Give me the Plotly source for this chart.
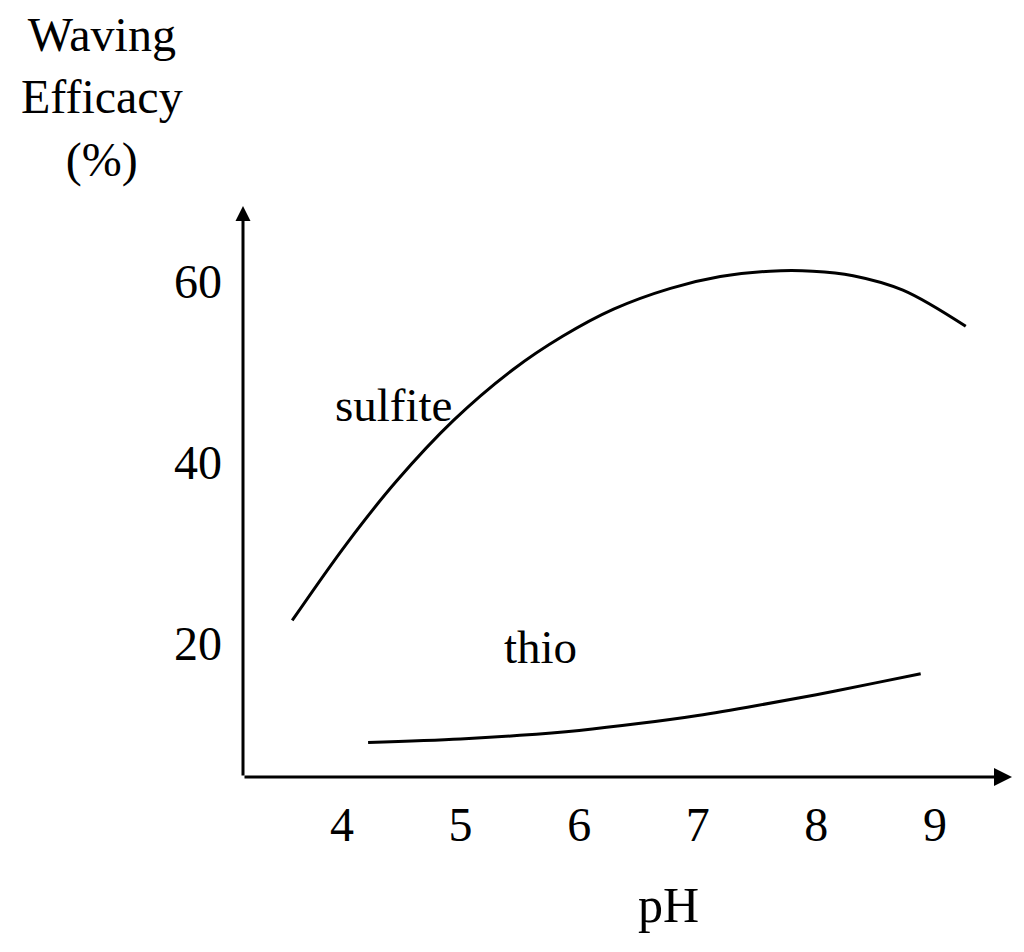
import plotly.graph_objects as go

# Data
sulfite_ph = [3.58, 4.04, 4.46, 4.94, 5.44, 5.86, 6.29, 6.77, 7.19, 7.61, 7.97, 8.31, 8.73, 9.26]
sulfite_eff = [22.5, 31.0, 37.9, 44.6, 50.2, 53.9, 56.9, 59.2, 60.5, 61.1, 61.1, 60.6, 59.0, 55.0]

thio_ph = [4.22, 5.0, 5.5, 6.0, 6.5, 7.0, 7.5, 8.0, 8.5, 8.88]
thio_eff = [9.0, 9.4, 9.8, 10.35, 11.1, 12.0, 13.1, 14.3, 15.6, 16.6]

x_ticks = [4, 5, 6, 7, 8, 9]
y_ticks = [20, 40, 60]

x_min, x_max = 3.165, 9.65
y_min, y_max = 5.2, 68.3

FONT = "Liberation Serif, Times New Roman, serif"

fig = go.Figure()
fig.add_trace(go.Scatter(x=sulfite_ph, y=sulfite_eff, mode="lines",
                         line=dict(color="black", width=3, shape="spline", smoothing=1.0),
                         name="sulfite", hoverinfo="skip"))
fig.add_trace(go.Scatter(x=thio_ph, y=thio_eff, mode="lines",
                         line=dict(color="black", width=3, shape="spline", smoothing=1.0),
                         name="thio", hoverinfo="skip"))

# axis arrows
fig.add_annotation(x=x_max, y=y_min, ax=x_min, ay=y_min, xref="x", yref="y",
                   axref="x", ayref="y", showarrow=True, arrowhead=2, arrowsize=1.2,
                   arrowwidth=3, arrowcolor="black", text="", standoff=0, startstandoff=0)
fig.add_annotation(x=x_min, y=y_max, ax=x_min, ay=y_min, xref="x", yref="y",
                   axref="x", ayref="y", showarrow=True, arrowhead=2, arrowsize=1.0,
                   arrowwidth=3, arrowcolor="black", text="", standoff=0, startstandoff=0)

# curve labels
fig.add_annotation(x=4.43, y=46.3, xref="x", yref="y", text="sulfite", showarrow=False,
                   font=dict(family=FONT, size=47, color="black"))
fig.add_annotation(x=5.67, y=19.6, xref="x", yref="y", text="thio", showarrow=False,
                   font=dict(family=FONT, size=47, color="black"))

# y title
fig.add_annotation(x=-0.183, y=1.35, xref="paper", yref="paper", xanchor="center", yanchor="top",
                   text="Waving<br>Efficacy<br>(%)", showarrow=False, align="center",
                   font=dict(family=FONT, size=48, color="black"))

# x title
fig.add_annotation(x=0.553, y=-0.224, xref="paper", yref="paper", xanchor="center", yanchor="middle",
                   text="pH", showarrow=False,
                   font=dict(family=FONT, size=50, color="black"))

fig.update_layout(
    width=1024, height=952,
    margin=dict(l=235, r=20, t=198, b=183),
    plot_bgcolor="white", paper_bgcolor="white",
    showlegend=False,
    xaxis=dict(range=[x_min, x_max], tickvals=x_ticks, ticktext=[str(v) for v in x_ticks],
               showgrid=False, zeroline=False, showline=False, ticks="",
               ticklabelstandoff=15,
               tickfont=dict(family=FONT, size=48, color="black")),
    yaxis=dict(range=[y_min, y_max], tickvals=y_ticks, ticktext=[str(v) for v in y_ticks],
               showgrid=False, zeroline=False, showline=False, ticks="",
               ticklabelstandoff=20,
               tickfont=dict(family=FONT, size=48, color="black")),
)

fig.write_html("out.html")
